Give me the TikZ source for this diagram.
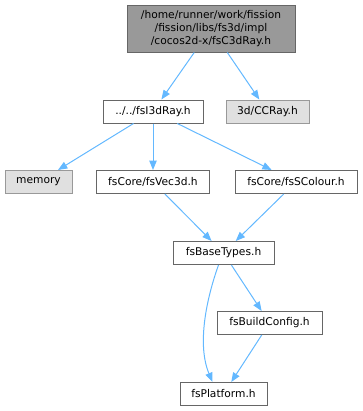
\documentclass[tikz,border=0pt]{standalone}
\usepackage{fontspec}
\setmainfont{DejaVu Sans}
\usetikzlibrary{arrows.meta}
\definecolor{edgeblue}{HTML}{63B8FF}
\definecolor{bordergray}{HTML}{666666}
\definecolor{extborder}{HTML}{999999}
\definecolor{extfill}{HTML}{E0E0E0}
\definecolor{topfill}{HTML}{999999}
\tikzset{
  filebox/.style={draw=bordergray, fill=white, line width=0.75pt, inner sep=0pt, font=\fontsize{8}{9.6}\selectfont, align=center},
  extbox/.style={filebox, draw=extborder, fill=extfill},
  topbox/.style={filebox, fill=topfill},
  dep/.style={draw=edgeblue, line width=0.75pt, -{Triangle[length=7pt,width=5.5pt]}},
}
\begin{document}
\begin{tikzpicture}[x=0.75pt, y=-0.75pt]
\useasboundingbox (0,0) rectangle (363,411);
\node[topbox, minimum width=168*0.75pt, minimum height=47*0.75pt] (top) at (211,28.5) {/home/runner/work/fission\\/fission/libs/fs3d/impl\\/cocos2d-x/fsC3dRay.h};
\node[filebox, minimum width=100*0.75pt, minimum height=23*0.75pt] (ray) at (153,111.5) {../../fsI3dRay.h};
\node[extbox, minimum width=83*0.75pt, minimum height=23*0.75pt] (cc) at (267.5,111.5) {3d/CCRay.h};
\node[extbox, minimum width=67*0.75pt, minimum height=23*0.75pt] (mem) at (38.5,182) {memory};
\node[filebox, minimum width=113*0.75pt, minimum height=23*0.75pt] (vec) at (153,182) {fsCore/fsVec3d.h};
\node[filebox, minimum width=122*0.75pt, minimum height=23*0.75pt] (col) at (296,182) {fsCore/fsSColour.h};
\node[filebox, minimum width=101*0.75pt, minimum height=23*0.75pt] (bt) at (223.5,253) {fsBaseTypes.h};
\node[filebox, minimum width=105*0.75pt, minimum height=23*0.75pt] (bc) at (269.5,323) {fsBuildConfig.h};
\node[filebox, minimum width=87*0.75pt, minimum height=23*0.75pt] (pl) at (223.5,394) {fsPlatform.h};
\draw[dep] (top) -- (ray);
\draw[dep] (top) -- (cc);
\draw[dep] (ray) -- (mem);
\draw[dep] (ray) -- (vec);
\draw[dep] (ray) -- (col);
\draw[dep] (vec) -- (bt);
\draw[dep] (col) -- (bt);
\draw[dep] (bt) -- (bc);
\draw[dep] (bc) -- (pl);
\draw[dep] ([xshift=-5*0.75pt]bt.south) .. controls (206,300) and (197,345) .. ([xshift=-11*0.75pt]pl.north);
\end{tikzpicture}
\end{document}
